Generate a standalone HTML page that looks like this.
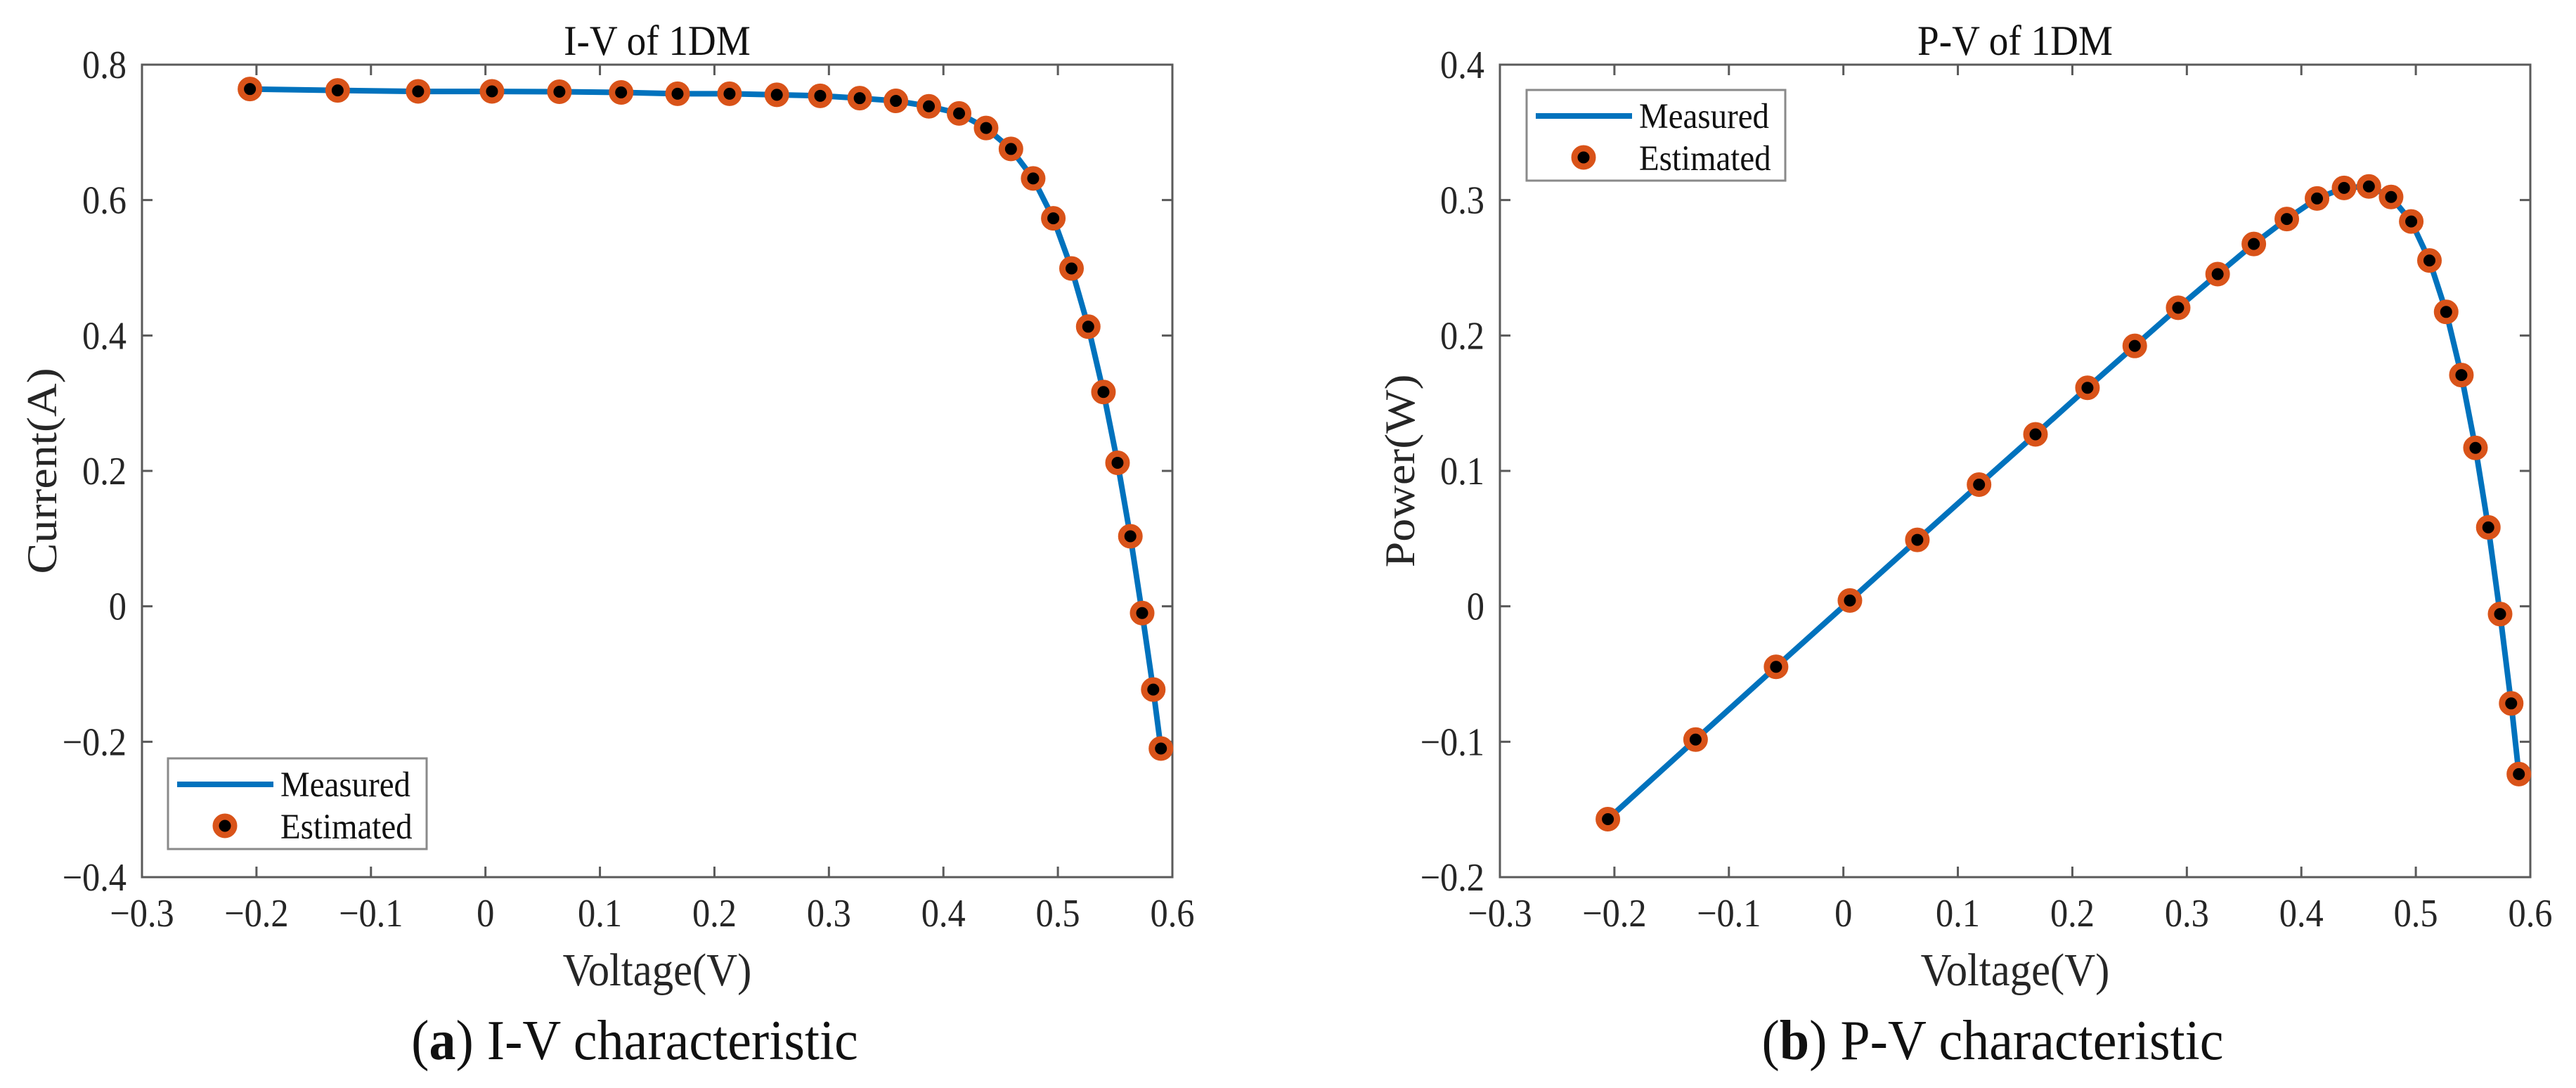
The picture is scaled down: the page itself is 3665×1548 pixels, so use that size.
<!DOCTYPE html>
<html><head><meta charset="utf-8">
<style>
html,body{margin:0;padding:0;background:#fff;}
svg{display:block;font-family:"Liberation Serif",serif;}
</style></head>
<body>
<svg id="fig" width="3665" height="1548" viewBox="0 0 3665 1548" xmlns="http://www.w3.org/2000/svg">
<rect width="3665" height="1548" fill="#fff"/>
<g id="panelA"></g>
<g id="panelB"></g>
<text transform="translate(903 1507) scale(0.95 1)" font-size="80" text-anchor="middle" fill="#111">(<tspan font-weight="bold">a</tspan>) I-V characteristic</text>
<text transform="translate(2835 1507) scale(0.95 1)" font-size="80" text-anchor="middle" fill="#111">(<tspan font-weight="bold">b</tspan>) P-V characteristic</text>
</svg>
<script>
const voltage = [-0.2057,-0.1291,-0.0588,0.0057,0.0646,0.1185,0.1678,0.2132,0.2545,0.2924,0.3269,0.3585,0.3873,0.4137,0.4373,0.4590,0.4784,0.4960,0.5119,0.5265,0.5398,0.5521,0.5633,0.5736,0.5833,0.5900];
const current = [0.7640,0.7620,0.7605,0.7605,0.7600,0.7590,0.7570,0.7570,0.7555,0.7540,0.7505,0.7465,0.7385,0.7280,0.7065,0.6755,0.6320,0.5730,0.4990,0.4130,0.3165,0.2120,0.1035,-0.0100,-0.1230,-0.2100];
const power = [-0.1572,-0.0984,-0.0447,0.0043,0.0491,0.0899,0.1270,0.1614,0.1923,0.2205,0.2453,0.2676,0.2860,0.3012,0.3090,0.3101,0.3023,0.2842,0.2554,0.2174,0.1708,0.1170,0.0583,-0.0057,-0.0717,-0.1239];
const xTicks = [-0.3,-0.2,-0.1,0,0.1,0.2,0.3,0.4,0.5,0.6];
const xTickLabels = ["\u22120.3","\u22120.2","\u22120.1","0","0.1","0.2","0.3","0.4","0.5","0.6"];
const iTicks = [-0.4,-0.2,0,0.2,0.4,0.6,0.8];
const iTickLabels = ["\u22120.4","\u22120.2","0","0.2","0.4","0.6","0.8"];
const pTicks = [-0.2,-0.1,0,0.1,0.2,0.3,0.4];
const pTickLabels = ["\u22120.2","\u22120.1","0","0.1","0.2","0.3","0.4"];

const NS="http://www.w3.org/2000/svg";
function mk(parent,tag,attrs,text){
  const e=document.createElementNS(NS,tag);
  for(const k in attrs) e.setAttribute(k,attrs[k]);
  if(text!==undefined) e.textContent=text;
  parent.appendChild(e); return e;
}
const BLUE="#0072BD", ORANGE="#D95319", AX="#5a5a5a";

function panel(g,L,title,ylabel,yvals,yT,yTL,ymin,ymax,legend){
  const R=L+1466, T=92, B=1248;
  const sx=v=>L+(v-(-0.3))/(0.9)*(R-L);
  const sy=v=>B-(v-ymin)/(ymax-ymin)*(B-T);
  xTicks.forEach((t,i)=>{
    const x=sx(t);
    const tk=mk(g,'path',{d:`M${x} ${B}V${B-15}M${x} ${T}V${T+15}`,stroke:AX,'stroke-width':3});
    
    
    const lb=mk(g,'text',{transform:`translate(${x} 1318) scale(0.9 1)`,'font-size':56,'text-anchor':'middle',fill:'#262626'},xTickLabels[i]);
    
    
  });
  yT.forEach((t,i)=>{
    const y=sy(t);
    const tk=mk(g,'path',{d:`M${L} ${y}H${L+15}M${R} ${y}H${R-15}`,stroke:AX,'stroke-width':3});
    
    
    const lb=mk(g,'text',{transform:`translate(${L-22} ${y+19}) scale(0.9 1)`,'font-size':56,'text-anchor':'end',fill:'#262626'},yTL[i]);
    
    
  });
  const box=mk(g,'rect',{x:L,y:T,width:R-L,height:B-T,fill:'none',stroke:AX,'stroke-width':3});
  
  
  const tt=mk(g,'text',{transform:`translate(${(L+R)/2} 78) scale(0.92 1)`,'font-size':60,'text-anchor':'middle',fill:'#111'},title);
  
  
  const xl=mk(g,'text',{transform:`translate(${(L+R)/2} 1402) scale(0.92 1)`,'font-size':66,'text-anchor':'middle',fill:'#262626'},'Voltage(V)');
  
  
  const yx=L-122, yy=(T+B)/2;
  const yl=mk(g,'text',{transform:`translate(${yx} ${yy}) rotate(-90) scale(1 0.92)`,'font-size':66,'text-anchor':'middle',fill:'#262626'},ylabel);
  
  
  const d=voltage.map((v,i)=>(i?'L':'M')+sx(v).toFixed(1)+' '+sy(yvals[i]).toFixed(1)).join('');
  const ln=mk(g,'path',{d:d,fill:'none',stroke:BLUE,'stroke-width':8,'stroke-linejoin':'round'});
  
  
  voltage.forEach((v,i)=>{
    const c=mk(g,'circle',{cx:sx(v),cy:sy(yvals[i]),r:13,fill:'#000',stroke:ORANGE,'stroke-width':9});
    
    
  });
  const lg=mk(g,'g',{});
  
  
  const bx=legend[0], by=legend[1];
  mk(lg,'rect',{x:bx,y:by,width:368,height:129,fill:'#fff',stroke:'#8a8a8a','stroke-width':3});
  const ls=mk(lg,'line',{x1:bx+13,y1:by+37,x2:bx+150,y2:by+37,stroke:BLUE,'stroke-width':8});
  
  
  const lm=mk(lg,'circle',{cx:bx+81,cy:by+96,r:13,fill:'#000',stroke:ORANGE,'stroke-width':9});
  
  
  const t1=mk(lg,'text',{transform:`translate(${bx+160} ${by+54}) scale(0.92 1)`,'font-size':51,fill:'#111'},'Measured');
  
  
  const t2=mk(lg,'text',{transform:`translate(${bx+160} ${by+114}) scale(0.92 1)`,'font-size':51,fill:'#111'},'Estimated');
  
  
}
panel(document.getElementById('panelA'),202,'I-V of 1DM','Current(A)',current,iTicks,iTickLabels,-0.4,0.8,[239,1079]);
panel(document.getElementById('panelB'),2134,'P-V of 1DM','Power(W)',power,pTicks,pTickLabels,-0.2,0.4,[2172,128]);
</script>
</body></html>
